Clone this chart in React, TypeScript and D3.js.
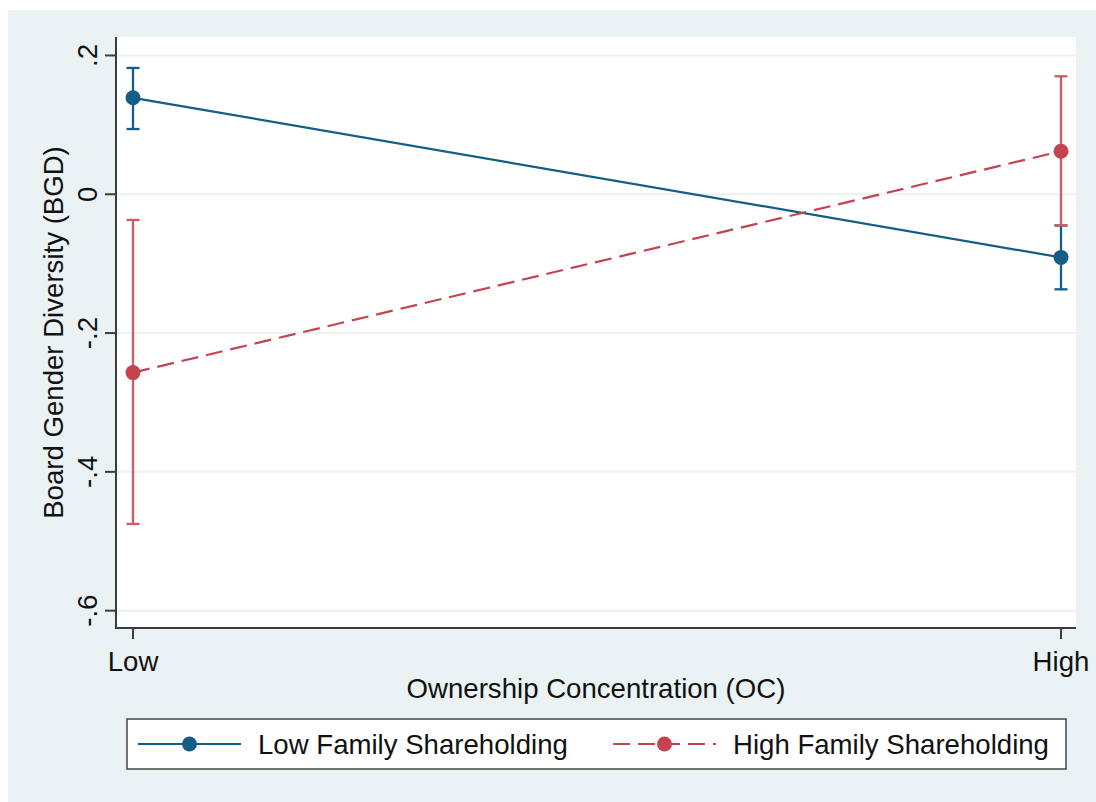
import React from 'react';
import * as d3 from 'd3';

const categories = ['Low', 'High'];
const yTicks = [0.2, 0, -0.2, -0.4, -0.6];
const yTickLabels = ['.2', '0', '-.2', '-.4', '-.6'];

const seriesNames = ['Low Family Shareholding', 'High Family Shareholding'];
const lowFamilyMean = [0.139, -0.091];
const lowFamilyLower = [0.094, -0.137];
const lowFamilyUpper = [0.182, -0.045];
const highFamilyMean = [-0.257, 0.062];
const highFamilyLower = [-0.475, -0.045];
const highFamilyUpper = [-0.037, 0.17];

const W = 1096;
const H = 802;
const PLOT = { left: 116, right: 1076, top: 37, bottom: 628 };
const FONT = '"Liberation Sans", Arial, sans-serif';
const FS = 27.6;
const BG = '#eaf2f3';
const BLUE = '#135d87';
const RED = '#c4434f';
const RED_BAR = '#cf5a66';
const AXIS = '#3c3c3c';

export default function App() {
  const x = d3.scalePoint<string>().domain(categories).range([133, 1061]).padding(0);
  const y = d3.scaleLinear().domain([-0.625, 0.2266]).range([PLOT.bottom, PLOT.top]);

  const line = d3
    .line<number>()
    .x((_, i) => x(categories[i]) as number)
    .y((d) => y(d));

  const series = [
    { name: seriesNames[0], mean: lowFamilyMean, lo: lowFamilyLower, hi: lowFamilyUpper, color: BLUE, bar: BLUE, dash: null as string | null },
    { name: seriesNames[1], mean: highFamilyMean, lo: highFamilyLower, hi: highFamilyUpper, color: RED, bar: RED_BAR, dash: '17 8' },
  ];

  const cap = 6.5;
  const legendY = 744;

  return (
    <svg
      width={W}
      height={H}
      style={{ position: 'absolute', left: 0, top: 0, background: '#ffffff' }}
      fontFamily={FONT}
    >
      <rect x={8} y={10} width={W - 8} height={H - 10} fill={BG} />
      <rect x={PLOT.left} y={PLOT.top} width={PLOT.right - PLOT.left} height={PLOT.bottom - PLOT.top} fill="#ffffff" />

      {/* gridlines */}
      {yTicks.map((t) => (
        <line key={`g${t}`} x1={PLOT.left} x2={PLOT.right} y1={y(t)} y2={y(t)} stroke={BG} strokeWidth={2} />
      ))}

      {/* y axis */}
      <line x1={PLOT.left} x2={PLOT.left} y1={PLOT.top} y2={PLOT.bottom + 1} stroke={AXIS} strokeWidth={2} />
      {yTicks.map((t, i) => (
        <g key={`y${t}`}>
          <line x1={PLOT.left - 11} x2={PLOT.left} y1={y(t)} y2={y(t)} stroke={AXIS} strokeWidth={2} />
          <text
            transform={`translate(97,${y(t)}) rotate(-90)`}
            textAnchor="middle"
            fontSize={FS}
            fill="#111"
          >
            {yTickLabels[i]}
          </text>
        </g>
      ))}
      <text transform={`translate(63,${(PLOT.top + PLOT.bottom) / 2}) rotate(-90)`} textAnchor="middle" fontSize={FS} fill="#111">
        Board Gender Diversity (BGD)
      </text>

      {/* x axis */}
      <line x1={PLOT.left - 1} x2={PLOT.right} y1={PLOT.bottom} y2={PLOT.bottom} stroke={AXIS} strokeWidth={2} />
      {categories.map((c) => (
        <g key={c}>
          <line x1={x(c)} x2={x(c)} y1={PLOT.bottom} y2={PLOT.bottom + 11} stroke={AXIS} strokeWidth={2} />
          <text x={x(c)} y={671} textAnchor="middle" fontSize={FS} fill="#111">
            {c}
          </text>
        </g>
      ))}
      <text x={(PLOT.left + PLOT.right) / 2} y={698} textAnchor="middle" fontSize={FS} fill="#111">
        Ownership Concentration (OC)
      </text>

      {/* series */}
      {series.map((s) => (
        <g key={s.name}>
          {s.mean.map((_, i) => {
            const cx = x(categories[i]) as number;
            return (
              <g key={i}>
                <line x1={cx} x2={cx} y1={y(s.lo[i])} y2={y(s.hi[i])} stroke={s.bar} strokeWidth={2.3} />
                <line x1={cx - cap} x2={cx + cap} y1={y(s.lo[i])} y2={y(s.lo[i])} stroke={s.bar} strokeWidth={2.3} />
                <line x1={cx - cap} x2={cx + cap} y1={y(s.hi[i])} y2={y(s.hi[i])} stroke={s.bar} strokeWidth={2.3} />
              </g>
            );
          })}
          <path d={line(s.mean) ?? ''} fill="none" stroke={s.color} strokeWidth={2.2} strokeDasharray={s.dash ?? undefined} />
          {s.mean.map((v, i) => (
            <circle key={i} cx={x(categories[i])} cy={y(v)} r={7.5} fill={s.color} />
          ))}
        </g>
      ))}

      {/* legend */}
      <rect x={127} y={719} width={939} height={50} fill="#ffffff" stroke="#444" strokeWidth={1.5} />
      {series.map((s, i) => {
        const x0 = i === 0 ? 138 : 613;
        return (
          <g key={`l${s.name}`}>
            <line x1={x0} x2={x0 + 103} y1={legendY} y2={legendY} stroke={s.color} strokeWidth={2.2} strokeDasharray={s.dash ?? undefined} />
            <circle cx={x0 + 51.5} cy={legendY} r={7.5} fill={s.color} />
            <text x={x0 + 120} y={legendY + 10} fontSize={FS} fill="#111">
              {s.name}
            </text>
          </g>
        );
      })}
    </svg>
  );
}
